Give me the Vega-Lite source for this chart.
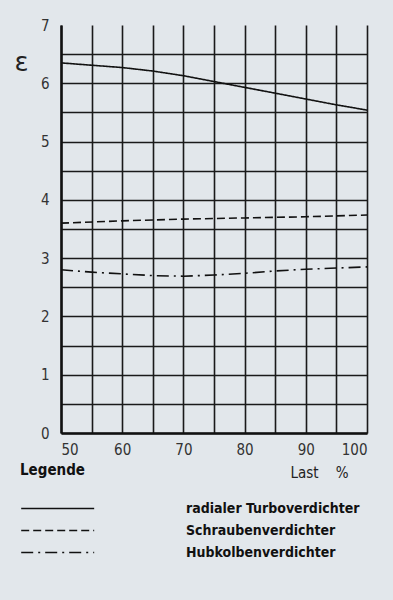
{
  "$schema": "https://vega.github.io/schema/vega-lite/v6.json",
  "width": 306,
  "height": 408,
  "autosize": "none",
  "padding": {"left": 61, "top": 25, "right": 26, "bottom": 167},
  "background": "#e2e7eb",
  "config": {"view": {"stroke": null}, "font": "DejaVu Sans Condensed"},
  "data": {"values": [
    {"last": 50, "eps": 6.35, "typ": "radialer Turboverdichter"},
    {"last": 55, "eps": 6.31, "typ": "radialer Turboverdichter"},
    {"last": 60, "eps": 6.27, "typ": "radialer Turboverdichter"},
    {"last": 65, "eps": 6.21, "typ": "radialer Turboverdichter"},
    {"last": 70, "eps": 6.13, "typ": "radialer Turboverdichter"},
    {"last": 75, "eps": 6.03, "typ": "radialer Turboverdichter"},
    {"last": 80, "eps": 5.93, "typ": "radialer Turboverdichter"},
    {"last": 85, "eps": 5.83, "typ": "radialer Turboverdichter"},
    {"last": 90, "eps": 5.73, "typ": "radialer Turboverdichter"},
    {"last": 95, "eps": 5.63, "typ": "radialer Turboverdichter"},
    {"last": 100, "eps": 5.54, "typ": "radialer Turboverdichter"},
    {"last": 50, "eps": 3.6, "typ": "Schraubenverdichter"},
    {"last": 60, "eps": 3.64, "typ": "Schraubenverdichter"},
    {"last": 70, "eps": 3.67, "typ": "Schraubenverdichter"},
    {"last": 80, "eps": 3.69, "typ": "Schraubenverdichter"},
    {"last": 90, "eps": 3.71, "typ": "Schraubenverdichter"},
    {"last": 100, "eps": 3.74, "typ": "Schraubenverdichter"},
    {"last": 50, "eps": 2.8, "typ": "Hubkolbenverdichter"},
    {"last": 55, "eps": 2.76, "typ": "Hubkolbenverdichter"},
    {"last": 60, "eps": 2.73, "typ": "Hubkolbenverdichter"},
    {"last": 65, "eps": 2.7, "typ": "Hubkolbenverdichter"},
    {"last": 70, "eps": 2.69, "typ": "Hubkolbenverdichter"},
    {"last": 75, "eps": 2.71, "typ": "Hubkolbenverdichter"},
    {"last": 80, "eps": 2.74, "typ": "Hubkolbenverdichter"},
    {"last": 85, "eps": 2.78, "typ": "Hubkolbenverdichter"},
    {"last": 90, "eps": 2.81, "typ": "Hubkolbenverdichter"},
    {"last": 95, "eps": 2.83, "typ": "Hubkolbenverdichter"},
    {"last": 100, "eps": 2.85, "typ": "Hubkolbenverdichter"}
  ]},
  "mark": {"type": "line", "color": "#111", "strokeWidth": 1.6},
  "encoding": {
    "x": {
      "field": "last", "type": "quantitative",
      "scale": {"domain": [50, 100], "nice": false},
      "axis": {
        "values": [50, 55, 60, 65, 70, 75, 80, 85, 90, 95, 100],
        "labelExpr": "datum.value % 10 == 0 ? datum.label : ''",
        "grid": true, "gridColor": "#1a1a1a", "gridWidth": 1.6, "gridOpacity": 1,
        "domainColor": "#111", "domainWidth": 2.5,
        "ticks": false, "labelPadding": 9, "labelFontSize": 15, "labelColor": "#333",
        "labelFont": "DejaVu Sans Condensed",
        "title": "Last\u00a0\u00a0\u00a0\u00a0%", "titleFontSize": 15, "titleFontWeight": "normal", "titleColor": "#222",
        "titleFont": "DejaVu Sans Condensed",
        "titleX": 258, "titleY": 39, "titleAnchor": "middle", "titleBaseline": "middle"
      }
    },
    "y": {
      "field": "eps", "type": "quantitative",
      "scale": {"domain": [0, 7], "nice": false},
      "axis": {
        "values": [0, 0.5, 1, 1.5, 2, 2.5, 3, 3.5, 4, 4.5, 5, 5.5, 6, 6.5, 7],
        "labelExpr": "datum.value % 1 == 0 ? format(datum.value, 'd') : ''",
        "grid": true, "gridWidth": 1.6, "gridOpacity": 1,
        "gridColor": {"condition": {"test": "datum.value == 7", "value": "transparent"}, "value": "#1a1a1a"},
        "domainColor": "#111", "domainWidth": 2.5,
        "ticks": false, "labelPadding": 12, "labelFontSize": 15, "labelColor": "#333",
        "labelFont": "DejaVu Sans Condensed",
        "title": "ε", "titleAngle": 0, "titleFontSize": 26, "titleFontWeight": "normal", "titleColor": "#222",
        "titleFont": "DejaVu Sans", "titleX": -40, "titleY": 37, "titleAlign": "center", "titleBaseline": "middle"
      }
    },
    "strokeDash": {
      "field": "typ", "type": "nominal",
      "scale": {
        "domain": ["radialer Turboverdichter", "Schraubenverdichter", "Hubkolbenverdichter"],
        "range": [[1, 0], [8, 4], [12, 5, 2, 5]]
      },
      "legend": {
        "orient": "none", "legendX": -41, "legendY": 438,
        "title": "Legende", "titleFontSize": 15, "titleFontWeight": "bold", "titleColor": "#111",
        "titleFont": "DejaVu Sans Condensed", "titlePadding": 22,
        "symbolType": "M-1,0H9", "symbolSize": 213, "symbolStrokeWidth": 1.5, "symbolStrokeColor": "#111",
        "labelFontSize": 14, "labelFontWeight": "bold", "labelColor": "#111", "labelFont": "DejaVu Sans Condensed",
        "labelOffset": 149, "rowPadding": 6, "labelLimit": 300
      }
    }
  }
}
